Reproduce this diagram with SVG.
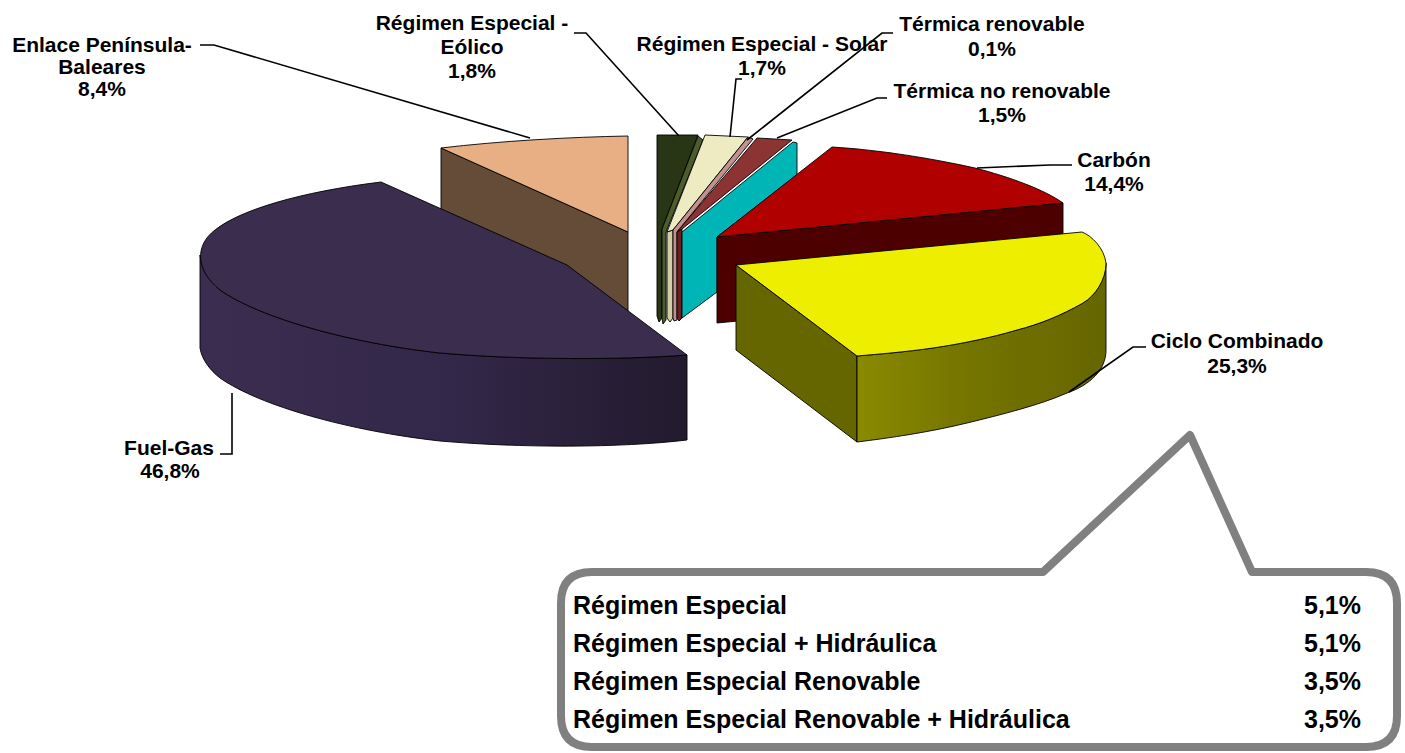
<svg xmlns="http://www.w3.org/2000/svg" width="1405" height="753" viewBox="0 0 1405 753">
<defs>
<linearGradient id="gPurple" x1="200" y1="0" x2="687" y2="0" gradientUnits="userSpaceOnUse">
<stop offset="0" stop-color="#3B2D50"/><stop offset="0.5" stop-color="#33284A"/><stop offset="1" stop-color="#221A2D"/>
</linearGradient>
<linearGradient id="gYellow" x1="857" y1="0" x2="1106" y2="0" gradientUnits="userSpaceOnUse">
<stop offset="0" stop-color="#8A8A00"/><stop offset="0.45" stop-color="#747400"/><stop offset="1" stop-color="#666600"/>
</linearGradient>
<style>
.f{stroke:#000;stroke-width:0.9;stroke-linejoin:round}
.lbl{font-family:"Liberation Sans",Arial,sans-serif;font-weight:bold;font-size:21px;fill:#000;text-anchor:middle}
.ct{font-family:"Liberation Sans",Arial,sans-serif;font-weight:bold;font-size:25px;fill:#000}
.ld{fill:none;stroke:#000;stroke-width:1.6}
</style>
</defs>
<rect width="1405" height="753" fill="#fff"/>

<g id="enlace">
<path class="f" fill="#644C38" d="M441,148 L628,232 L628,322 L441,240 Z"/>
<path class="f" fill="#E8AE84" d="M441,148 C500,141 570,137 628,136 L628,232 Z"/>
</g>

<g id="fuel-gas">
<path class="f" fill="url(#gPurple)" d="M200,255 L200,348 C202,360 210,370 220,378 C260,406 350,431 440,441 C520,448 620,448 687,440 L687,355 C620,360 520,360 440,353 C350,343 260,318 220,290 C208,280 201,268 200,255 Z"/>
<path class="f" fill="#3A2D4E" d="M381,182 L567,265 L687,355 C620,360 520,360 440,353 C350,343 260,318 220,290 C195,270 195,245 215,230 C240,210 300,192 381,182 Z"/>
</g>

<g id="eolico">
<path class="f" fill="#283616" d="M657,135 L698,135 L662,229 L662,318 L659,322 L657,316 Z"/>
<path class="f" fill="#4C5C2A" d="M698,136 L703,140 L666,232 L666,320 L663,324 L662,318 L662,229 Z"/>
</g>

<g id="solar">
<path class="f" fill="#D2CEA2" d="M667,232 L673,230 L673,318 L670,322 L667,318 Z"/>
<path class="f" fill="#EEEBC2" d="M705,135 L748,137 L673,230 L667,232 Z"/>
</g>

<g id="termica-renovable">
<path class="f" fill="#C39090" d="M748,137 L753,139 L677,232 L677,320 L674,321 L673,318 L673,230 Z"/>
</g>

<g id="termica-no-renovable">
<path class="f" fill="#6E2020" d="M677,232 L682,229 L682,318 L679,321 L677,318 Z"/>
<path class="f" fill="#8C3434" d="M757,138 L792,140 L682,229 L677,232 Z"/>
</g>

<g id="hidraulica">
<path class="f" fill="#00B5B5" d="M682,232 L793,142 L797,143 L797,175 L717,237 L717,292 L682,318 Z"/>
</g>

<g id="carbon">
<path class="f" fill="#4D0000" d="M717,237 L1063,203 L1063,290 L717,323 Z"/>
<path class="f" fill="#B00000" d="M717,237 L832,147 C880,150 930,158 975,168 C1010,177 1045,190 1063,203 Z"/>
</g>

<g id="ciclo-combinado">
<path class="f" fill="#666600" d="M736,265 L857,356 L857,442 L736,350 Z"/>
<path class="f" fill="url(#gYellow)" d="M857,356 C880,354 905,352 933,348 C960,344 990,338 1017,330 C1040,324 1060,316 1083,303 C1095,296 1106,280 1106,263 L1106,350 C1106,370 1090,385 1067,393 C1040,405 1000,415 967,423 C930,432 890,438 857,442 Z"/>
<path class="f" fill="#EEEE00" d="M736,265 L1082,232 C1092,236 1104,248 1106,263 C1106,280 1095,296 1083,303 C1060,316 1040,324 1017,330 C990,338 960,344 933,348 C905,352 880,354 857,356 Z"/>
</g>

<g id="connectors">
<polyline class="ld" points="200,45 214,45 530,138"/>
<polyline class="ld" points="574,33 586,33 679,136"/>
<polyline class="ld" points="742,79 736,79 730,137"/>
<polyline class="ld" points="893,33 882,33 747,140"/>
<polyline class="ld" points="887,98 877,98 777,138"/>
<polyline class="ld" points="1072,165 1050,165 977,168"/>
<polyline class="ld" points="1146,347 1133,347 1069,392"/>
<polyline class="ld" points="220,454 232,454 232,393"/>
</g>

<g id="labels">
<text class="lbl" x="102" y="52">Enlace Península-</text>
<text class="lbl" x="102" y="74">Baleares</text>
<text class="lbl" x="102" y="96">8,4%</text>
<text class="lbl" x="472" y="30">Régimen Especial -</text>
<text class="lbl" x="472" y="54">Eólico</text>
<text class="lbl" x="472" y="78">1,8%</text>
<text class="lbl" x="762" y="51">Régimen Especial - Solar</text>
<text class="lbl" x="762" y="75">1,7%</text>
<text class="lbl" x="992" y="31">Térmica renovable</text>
<text class="lbl" x="992" y="56">0,1%</text>
<text class="lbl" x="1002" y="98">Térmica no renovable</text>
<text class="lbl" x="1002" y="122">1,5%</text>
<text class="lbl" x="1114" y="167">Carbón</text>
<text class="lbl" x="1114" y="191">14,4%</text>
<text class="lbl" x="1237" y="348">Ciclo Combinado</text>
<text class="lbl" x="1237" y="373">25,3%</text>
<text class="lbl" x="169" y="455">Fuel-Gas</text>
<text class="lbl" x="170" y="478">46,8%</text>
</g>

<g id="callout">
<path d="M592,572 L1043,572 L1190,435 L1252,572 L1366,572 Q1397,572 1397,603 L1397,716 Q1397,747 1366,747 L592,747 Q561,747 561,716 L561,603 Q561,572 592,572 Z" fill="#fff" stroke="#808080" stroke-width="8" stroke-linejoin="round"/>
<text class="ct" x="573" y="614">Régimen Especial</text>
<text class="ct" x="573" y="652">Régimen Especial + Hidráulica</text>
<text class="ct" x="573" y="690">Régimen Especial Renovable</text>
<text class="ct" x="573" y="728">Régimen Especial Renovable + Hidráulica</text>
<text class="ct" x="1361" y="614" text-anchor="end">5,1%</text>
<text class="ct" x="1361" y="652" text-anchor="end">5,1%</text>
<text class="ct" x="1361" y="690" text-anchor="end">3,5%</text>
<text class="ct" x="1361" y="728" text-anchor="end">3,5%</text>
</g>
</svg>
